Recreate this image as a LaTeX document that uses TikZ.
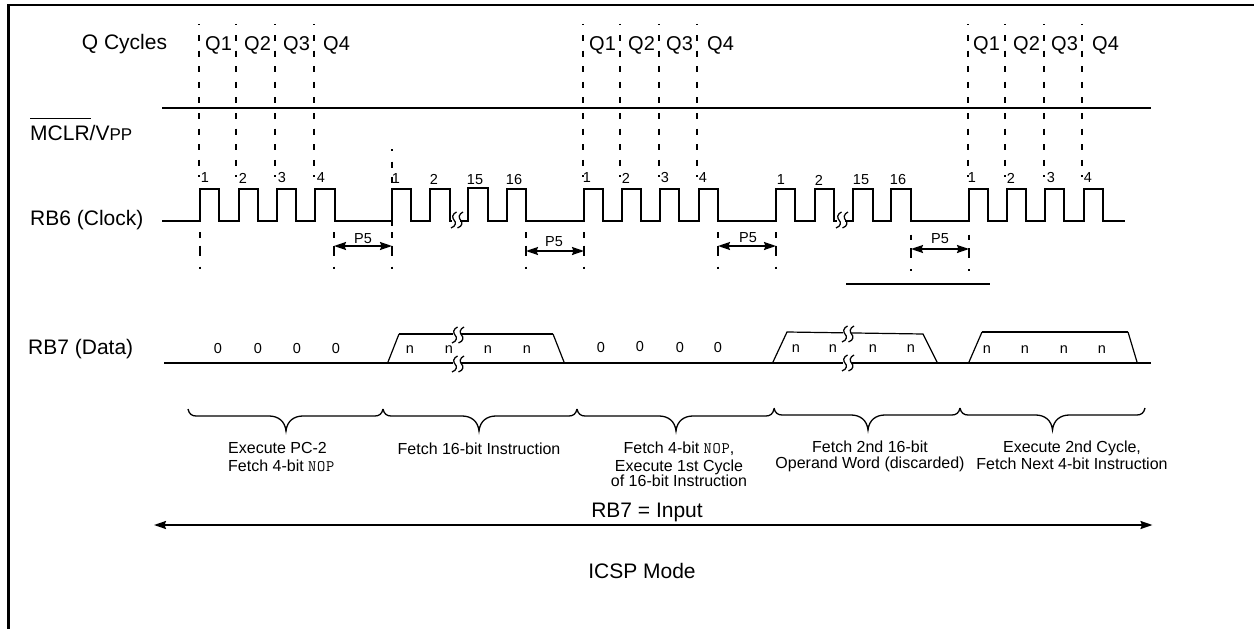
\documentclass[tikz,border=0pt]{standalone}
\usepackage{fontspec}
\setmainfont{Liberation Sans}
\usetikzlibrary{arrows.meta}
\newcommand{\fs}[1]{\fontsize{#1}{#1}\selectfont}
\newcommand{\nopt}[1]{{\ttfamily\fs{16}#1}}
\newcommand{\mybrace}[4]{\draw[brc] (#1,#4-7) .. controls (#1+1,#4-2) and (#1+4,#4) .. (#1+8,#4) -- (#2-17,#4) .. controls (#2-8,#4) and (#2-1,#4+5) .. (#2,#4+15) .. controls (#2+1,#4+5) and (#2+8,#4) .. (#2+17,#4) -- (#3-8,#4) .. controls (#3-4,#4) and (#3-1,#4-2) .. (#3,#4-7);}
\tikzset{
  sig/.style={line width=1.8pt,line cap=butt,line join=miter},
  thin sig/.style={line width=1.2pt},
  qdash/.style={line width=1.9pt,dash pattern=on 6pt off 9.6pt,dash phase=4.4pt},
  pdash/.style={line width=1.9pt,dash pattern=on 5.5pt off 8pt on 10pt off 11pt on 2pt off 100pt},
  head/.style={Stealth[length=12pt,width=8pt,inset=1.5pt]},
  dimarrow/.style={line width=1.6pt,{Stealth[length=12pt,width=8pt,inset=1.5pt]}-{Stealth[length=12pt,width=8pt,inset=1.5pt]}},
  brc/.style={line width=1.3pt},
  big/.style={font=\fs{21},inner sep=0pt},
  qlab/.style={font=\fs{20},inner sep=0pt,anchor=west},
  small/.style={font=\fs{14.5},inner sep=0pt},
  desc/.style={font=\fs{16},inner sep=0pt,align=center},
  sq/.pic={
    \fill[white] (-1,0) rectangle (7,16);
    \draw[line width=1.25pt] (3.5,0) .. controls (-1,2) and (-1,6) .. (1,8) .. controls (3,10) and (3.5,14) .. (-2,16);
    \draw[line width=1.25pt] (10,0) .. controls (5.5,2) and (5.5,6) .. (7.5,8) .. controls (9.5,10) and (10,14) .. (4.5,16);
  }
}
\begin{document}
\begin{tikzpicture}[x=1pt,y=-1pt]
\useasboundingbox (0,0) rectangle (1254,629);
% frame
\draw[line width=2.2pt] (8.5,629) -- (8.5,5) -- (1254,5);

% Q cycle dashed lines
\foreach \x in {199,236,275,314,583,620,659,697,968,1005,1044,1082}
  \draw[qdash] (\x,23.8) -- (\x,177);
\draw[line width=1.9pt,dash pattern=on 2pt off 10.5pt on 6pt off 9pt on 6pt off 38pt on 5pt]
  (392,149) -- (392,226);

% lower dashed lines
\foreach \x in {200,334,392,526,584,718,776}
  \draw[pdash] (\x,232) -- (\x,269);
\foreach \x in {911,969}
  \draw[pdash] (\x,234.5) -- (\x,272);

% MCLR line
\draw[sig] (162,108) -- (1151,108);

% clock
\draw[sig] (162,221) -- (200,221) -- (200,189) -- (219,189) -- (219,221) -- (239,221) -- (239,189) -- (258,189) -- (258,221)
  -- (277,221) -- (277,189) -- (296,189) -- (296,221) -- (315,221) -- (315,189) -- (335,189) -- (335,221)
  -- (392,221) -- (392,189) -- (411,189) -- (411,221) -- (430,221) -- (430,189) -- (450,189) -- (450,221)
  -- (468,221) -- (468,188) -- (488,188) -- (488,221) -- (507,221) -- (507,189) -- (526,189) -- (526,221)
  -- (584,221) -- (584,189) -- (603,189) -- (603,221) -- (622,221) -- (622,189) -- (641,189) -- (641,221)
  -- (660,221) -- (660,189) -- (679,189) -- (679,221) -- (699,221) -- (699,189) -- (718,189) -- (718,221)
  -- (776,221) -- (776,189) -- (795,189) -- (795,221) -- (815,221) -- (815,189) -- (834,189) -- (834,221)
  -- (853,221) -- (853,189) -- (873,189) -- (873,221) -- (891,221) -- (891,189) -- (911,189) -- (911,221)
  -- (969,221) -- (969,189) -- (988,189) -- (988,221) -- (1007,221) -- (1007,189) -- (1026,189) -- (1026,221)
  -- (1045,221) -- (1045,189) -- (1064,189) -- (1064,221) -- (1084,221) -- (1084,189) -- (1103,189) -- (1103,221)
  -- (1125,221);
\pic at (453,212) {sq};
\pic at (838,212) {sq};

% stray line
\draw[sig] (846,284) -- (990,284);

% data
\draw[sig] (164,363) -- (1151,363);
\draw[thin sig] (388,362) -- (399,334);
\draw[sig] (399,334) -- (553,334);
\draw[thin sig] (553,334) -- (564,362);
\draw[thin sig] (773,362) -- (787,332) -- (923,334) -- (937,362);
\draw[thin sig] (969,362) -- (982,332);
\draw[sig] (982,332) -- (1128,332);
\draw[thin sig] (1128,332) -- (1137,362);
\pic at (454,327) {sq};
\pic at (454,356) {sq};
\pic at (844,326) {sq};
\pic at (844,355) {sq};

% P5 dimension arrows
\coordinate (p1a) at (334,246); \coordinate (p1b) at (392,246);
\coordinate (p2a) at (526,251); \coordinate (p2b) at (584,251);
\coordinate (p3a) at (718,246); \coordinate (p3b) at (776,246);
\coordinate (p4a) at (911,249); \coordinate (p4b) at (969,249);
\draw[dimarrow] (p1a) -- (p1b);
\draw[dimarrow] (p2a) -- (p2b);
\draw[dimarrow] (p3a) -- (p3b);
\draw[dimarrow] (p4a) -- (p4b);
\node[small] (t1) at (363,239) {P5};
\node[small] (t2) at (554,242) {P5};
\node[small] (t3) at (748,238) {P5};
\node[small] (t4) at (940,239) {P5};

% braces
\mybrace{188}{286}{383}{416}
\mybrace{383}{479}{577}{416}
\mybrace{577}{676}{774}{416}
\mybrace{774}{868}{960}{415}
\mybrace{960}{1052.5}{1145}{415}

% long arrow
\coordinate (la) at (154,525); \coordinate (lb) at (1152.5,525);
\draw[line width=1.8pt,dimarrow,line width=1.8pt] (la) -- (lb);

% left labels
\node[big] (lq) at (124.5,44.5) {Q Cycles};
\node[big,anchor=base west] (lm) at (30,140) {\rlap{\rule[21pt]{60.5pt}{1.5pt}}MCLR/V{\fs{17}PP}};
\node[big,anchor=west] (lc) at (30,220) {RB6 (Clock)};
\node[big,anchor=west] (ld) at (28,349) {RB7 (Data)};

% Q labels
\foreach \x/\l [count=\i] in {205/Q1,244/Q2,283/Q3,323/Q4,589/Q1,628/Q2,666/Q3,707/Q4,973/Q1,1013/Q2,1051/Q3,1092/Q4}
  \node[qlab] (q\i) at (\x,45) {\l};

% clock numbers
\foreach \x/\y/\l [count=\i] in {205/178/1,243/178/2,282/178/3,321/178/4,396/179/1,434/179/2,475/180/15,514/180/16,
  587/178/1,626/178/2,665/178/3,703/178/4,781/180/1,819/180/2,861/180/15,898/180/16,972/178/1,1011/178/2,1051/178/3,1088/178/4}
  \node[small] (c\i) at (\x,\y) {\l};

% data values
\foreach \x/\y/\l [count=\i] in {218/349/0,258/349/0,297/349/0,336/349/0,
  410/350/n,449/350/n,488/350/n,527/350/n,
  601/348/0,640/347/0,680/348/0,718/348/0,
  796/349/n,833/349/n,873/349/n,911/349/n,
  987/350/n,1025/350/n,1064/350/n,1102/350/n}
  \node[small] (d\i) at (\x,\y) {\l};

% descriptions
\node[desc,align=left,anchor=north west] (e1) at (228,442.5) {Execute PC-2\\[2pt]Fetch 4-bit \nopt{N\kern.7pt O\kern.7pt P}};
\node[desc] (e2) at (479,449) {Fetch 16-bit Instruction};
\node[desc,anchor=north] (e3) at (679,442) {Fetch 4-bit \nopt{N\kern.7pt O\kern.7pt P},\\[2pt]Execute 1st Cycle\\[-1pt]of 16-bit Instruction};
\node[desc,anchor=north] (e4) at (870,441) {Fetch 2nd 16-bit\\Operand Word (discarded)};
\node[desc,anchor=north] (e5) at (1072,441) {Execute 2nd Cycle,\\[1pt]Fetch Next 4-bit Instruction};

\node[big] (r) at (647,512) {RB7 = Input};
\node[big] (m) at (642,571) {ICSP Mode};
\end{tikzpicture}
\end{document}
